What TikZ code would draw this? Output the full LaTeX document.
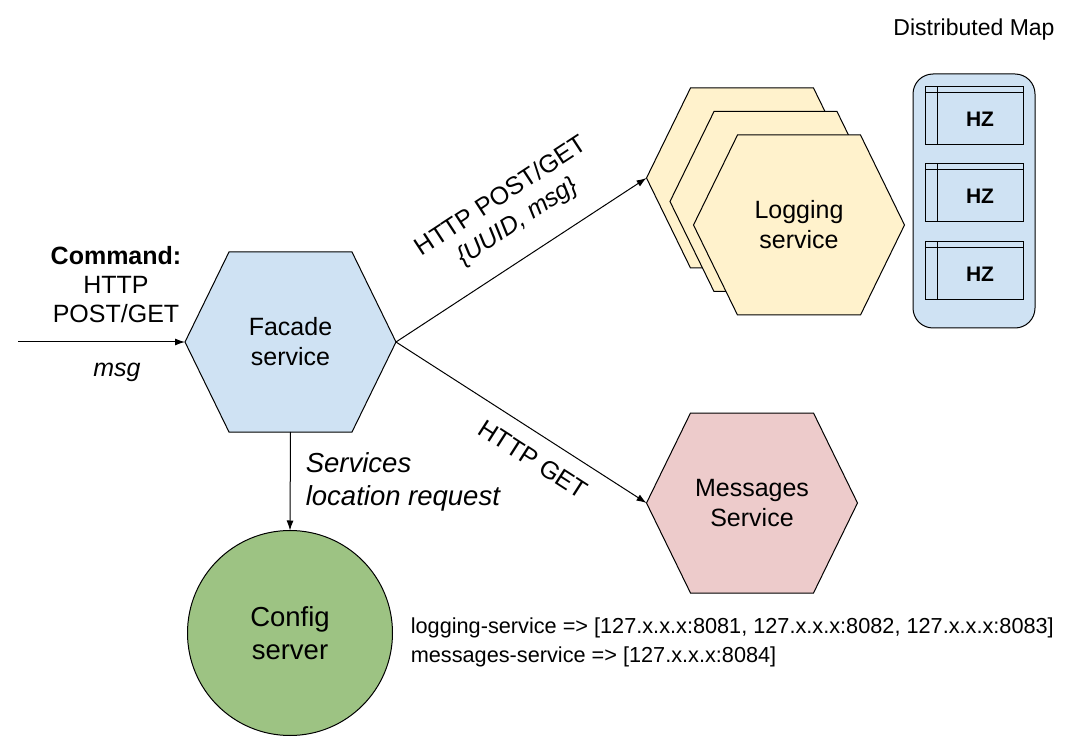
\documentclass[tikz,border=0pt]{standalone}
\usepackage{fontspec}
\setmainfont{Liberation Sans}
\usepackage{tikz}
\usetikzlibrary{calc}
\usetikzlibrary{positioning}
\usetikzlibrary{arrows.meta}
\definecolor{svcblue}{HTML}{CFE2F3}
\definecolor{logyellow}{HTML}{FFF2CC}
\definecolor{msgred}{HTML}{EDCBCB}
\definecolor{cfggreen}{HTML}{9DC383}
\tikzstyle{hexbox} = [rectangle,inner sep=0pt,outer sep=0pt,minimum width=211pt,minimum height=180pt,align=center,font=\fontsize{25}{30}\selectfont]
\tikzstyle{hexline} = [draw=black,line width=1pt]
\tikzstyle{hzbox} = [rectangle,draw,fill=svcblue,minimum width=98pt,minimum height=58pt,inner sep=0pt,outer sep=0pt]
\tikzstyle{hztext} = [font=\fontsize{21}{25}\selectfont\bfseries]
\tikzstyle{lbl} = [font=\fontsize{25}{30}\selectfont,align=center]
% hexagon: name, centre, fill, text
\newcommand{\HexNode}[4]{%
  \draw[hexline,fill=#3] ($#2+(-105.5,0)$) -- ($#2+(-61.5,-90)$) -- ($#2+(61.5,-90)$)
    -- ($#2+(105.5,0)$) -- ($#2+(61.5,90)$) -- ($#2+(-61.5,90)$) -- cycle;
  \node (#1) [hexbox] at #2 {#4};}

\begin{document}
\begin{tikzpicture}[x=1pt,y=-1pt,line width=1pt]

	\tikzstyle{flow}=[-{Latex[length=10pt,width=7pt]}];
	\useasboundingbox (0,0) rectangle (1080,746);

	\HexNode{facade}{(290.5,342)}{svcblue}{Facade\\service}
	\HexNode{logb}{(752,178)}{logyellow}{}
	\HexNode{logm}{(775.5,201.5)}{logyellow}{}
	\HexNode{logf}{(799,225)}{logyellow}{Logging\\service}
	\HexNode{msgsvc}{(752,503)}{msgred}{Messages\\Service}
	\node (config) [circle,draw,fill=cfggreen,minimum size=205pt,inner sep=0pt,outer sep=0pt,align=center,font=\fontsize{27.5}{33}\selectfont] at (290,633) {Config\\server};

	% distributed map
	\node (maptitle) [font=\fontsize{23}{27}\selectfont] at (974,30) {Distributed Map};
	\node (map) [draw,fill=svcblue,rounded corners=20pt,minimum width=122pt,minimum height=254pt,inner sep=0pt,outer sep=0pt] at (974,201) {};
	\foreach \i/\yy in {1/116,2/193,3/271}{
		\node (hz\i) [hzbox] at (974,\yy) {};
		\draw ($(hz\i.north west)+(0,6)$) -- ($(hz\i.north east)+(0,6)$);
		\draw ($(hz\i.north west)+(12,0)$) -- ($(hz\i.south west)+(12,0)$);
		\node (hz\i t) [hztext] at ($(hz\i.center)+(6,3)$) {HZ};
	}

	% input
	\coordinate (in) at (18,342);
	\node (cmd) [lbl,font=\fontsize{25}{29}\selectfont] at (116,285) {\textbf{Command:}\\HTTP\\POST/GET};
	\node (msglbl) [lbl] at (117,372) {\textit{msg}};
	\draw[flow] (in) -- (facade.west);

	\draw[flow] (facade.east) -- node[lbl,sloped,pos=0.56,above=18pt] {HTTP POST/GET\\\textit{\{UUID, msg\}}} (logb.west);
	\draw[flow] (facade.east) -- node[lbl,sloped,pos=0.6,below=12pt] {HTTP GET} (msgsvc.west);
	\draw[flow] (facade.south) -- (config.north);
	\node (req) [anchor=west,align=left,font=\fontsize{27.5}{33}\selectfont\itshape] at (302,482) {Services\\location request};

	\node (addr) [anchor=west,align=left,font=\fontsize{21.7}{29}\selectfont] at (407,642) {logging-service => [127.x.x.x:8081, 127.x.x.x:8082, 127.x.x.x:8083]\\messages-service => [127.x.x.x:8084]};
\end{tikzpicture}
\end{document}
